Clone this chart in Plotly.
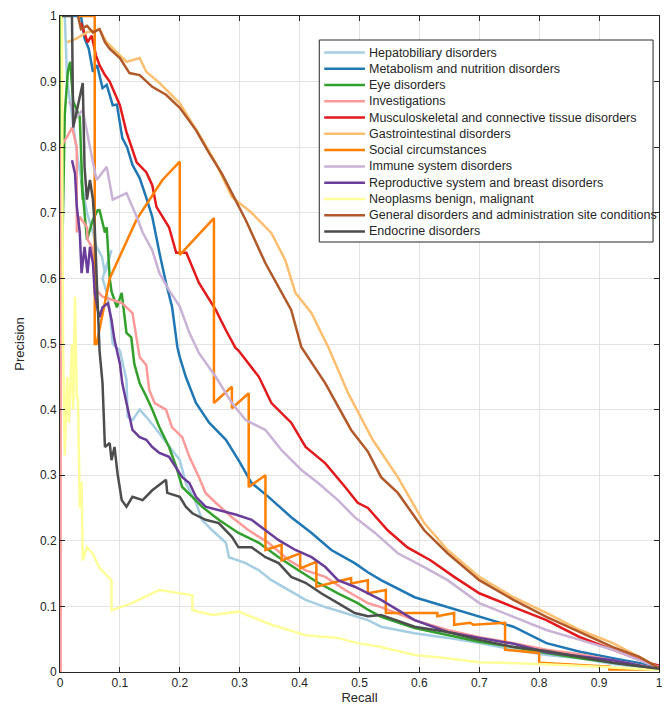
import plotly.graph_objects as go

names = [
    "Hepatobiliary disorders",
    "Metabolism and nutrition disorders",
    "Eye disorders",
    "Investigations",
    "Musculoskeletal and connective tissue disorders",
    "Gastrointestinal disorders",
    "Social circumstances",
    "Immune system disorders",
    "Reproductive system and breast disorders",
    "Neoplasms benign, malignant",
    "General disorders and administration site conditions",
    "Endocrine disorders",
]
colors = ["#A6CEE3", "#1F78B4", "#33A02C", "#FB9A99", "#E31A1C", "#FDBF6F",
          "#FF7F00", "#CAB2D6", "#6A3D9A", "#FFFF99", "#B15928", "#4D4D4D"]

tick_vals = [0, 0.1, 0.2, 0.3, 0.4, 0.5, 0.6, 0.7, 0.8, 0.9, 1.0]
tick_text = ["0", "0.1", "0.2", "0.3", "0.4", "0.5", "0.6", "0.7", "0.8", "0.9", "1"]

hep_r = [0.008, 0.012, 0.02, 0.03, 0.045, 0.055, 0.061, 0.07, 0.075, 0.08, 0.086, 0.071, 0.078, 0.083, 0.088, 0.1,
         0.111, 0.113, 0.121, 0.133, 0.144, 0.158, 0.171, 0.187, 0.2, 0.21, 0.227, 0.237, 0.254, 0.277, 0.282,
         0.31, 0.332, 0.353, 0.381, 0.41, 0.443, 0.476, 0.514, 0.536, 0.592, 0.647, 0.70, 0.757, 0.812, 0.868,
         0.923, 1.0]
hep_p = [1.0, 0.9, 0.85, 0.78, 0.70, 0.67, 0.648, 0.633, 0.608, 0.623, 0.643, 0.60, 0.578, 0.552, 0.50, 0.49,
         0.445, 0.389, 0.384, 0.40, 0.389, 0.373, 0.358, 0.338, 0.323, 0.288, 0.258, 0.232, 0.216, 0.197, 0.175,
         0.166, 0.155, 0.14, 0.125, 0.11, 0.099, 0.09, 0.079, 0.069, 0.059, 0.052, 0.044, 0.034, 0.026, 0.021,
         0.012, 0.004]

met_r = [0.02, 0.035, 0.041, 0.048, 0.055, 0.062, 0.071, 0.078, 0.088, 0.095, 0.104, 0.112, 0.121, 0.133, 0.144,
         0.154, 0.166, 0.177, 0.187, 0.196, 0.2, 0.21, 0.227, 0.249, 0.277, 0.298, 0.32, 0.348, 0.386, 0.42,
         0.453, 0.492, 0.514, 0.536, 0.592, 0.647, 0.70, 0.757, 0.812, 0.868, 0.923, 0.978, 1.0]
met_p = [1.0, 1.0, 0.966, 0.95, 0.915, 0.925, 0.89, 0.895, 0.864, 0.865, 0.814, 0.80, 0.773, 0.753, 0.723,
         0.694, 0.639, 0.593, 0.557, 0.495, 0.48, 0.45, 0.41, 0.38, 0.354, 0.323, 0.288, 0.267, 0.236, 0.212,
         0.186, 0.166, 0.152, 0.14, 0.114, 0.099, 0.084, 0.069, 0.044, 0.031, 0.021, 0.012, 0.008]

eye_r = [0.002, 0.003, 0.008, 0.013, 0.017, 0.022, 0.033, 0.038, 0.036, 0.045, 0.055, 0.063, 0.066, 0.075, 0.078,
         0.083, 0.086, 0.095, 0.103, 0.111, 0.119, 0.124, 0.133, 0.144, 0.154, 0.166, 0.182, 0.194, 0.204, 0.221,
         0.237, 0.265, 0.298, 0.332, 0.365, 0.398, 0.431, 0.464, 0.497, 0.514, 0.536, 0.592, 0.647, 0.70, 0.757,
         0.812, 0.868, 0.923, 1.0]
eye_p = [1.0, 0.6, 0.85, 0.915, 0.93, 0.87, 0.846, 0.72, 0.75, 0.659, 0.69, 0.704, 0.704, 0.67, 0.678,
         0.60, 0.58, 0.556, 0.578, 0.517, 0.51, 0.47, 0.44, 0.42, 0.40, 0.373, 0.343, 0.313, 0.282, 0.267,
         0.252, 0.232, 0.212, 0.197, 0.175, 0.155, 0.136, 0.12, 0.105, 0.095, 0.084, 0.067, 0.056, 0.046, 0.038,
         0.029, 0.021, 0.014, 0.005]

inv_r = [0.001, 0.001, 0.012, 0.02, 0.028, 0.028, 0.033, 0.036, 0.045, 0.046, 0.053, 0.061, 0.071, 0.088, 0.104,
         0.121, 0.133, 0.144, 0.149, 0.158, 0.177, 0.187, 0.204, 0.216, 0.232, 0.243, 0.26, 0.287, 0.315,
         0.348, 0.381, 0.41, 0.443, 0.476, 0.514, 0.536, 0.592, 0.647, 0.70, 0.757, 0.812, 0.868, 0.923, 1.0]
inv_p = [0.0, 0.8, 0.816, 0.83, 0.80, 0.67, 0.694, 0.69, 0.678, 0.659, 0.648, 0.582, 0.572, 0.567, 0.562,
         0.547, 0.48, 0.468, 0.43, 0.41, 0.40, 0.373, 0.358, 0.328, 0.297, 0.273, 0.258, 0.236, 0.216,
         0.197, 0.171, 0.155, 0.145, 0.125, 0.105, 0.099, 0.079, 0.064, 0.053, 0.044, 0.034, 0.027, 0.018, 0.005]

mus_r = [0.035, 0.046, 0.053, 0.06, 0.066, 0.075, 0.083, 0.09, 0.1, 0.111, 0.128, 0.144, 0.154, 0.161, 0.182,
         0.194, 0.211, 0.232, 0.26, 0.277, 0.293, 0.298, 0.332, 0.353, 0.386, 0.41, 0.443, 0.476, 0.497, 0.514,
         0.547, 0.58, 0.619, 0.658, 0.70, 0.757, 0.812, 0.868, 0.923, 0.978, 1.0]
mus_p = [0.99, 0.96, 0.97, 0.94, 0.925, 0.91, 0.90, 0.885, 0.864, 0.823, 0.777, 0.762, 0.742, 0.709, 0.678,
         0.639, 0.639, 0.593, 0.552, 0.521, 0.494, 0.49, 0.45, 0.41, 0.38, 0.343, 0.318, 0.282, 0.258, 0.25,
         0.216, 0.19, 0.17, 0.145, 0.12, 0.099, 0.079, 0.053, 0.034, 0.015, 0.01]

gas_r = [0.012, 0.028, 0.045, 0.066, 0.078, 0.095, 0.111, 0.133, 0.144, 0.166, 0.2, 0.232, 0.26, 0.287, 0.32,
         0.353, 0.376, 0.393, 0.42, 0.436, 0.448, 0.481, 0.522, 0.564, 0.608, 0.647, 0.70, 0.757, 0.812, 0.868,
         0.923, 0.967, 1.0]
gas_p = [0.96, 0.966, 0.975, 0.98, 0.96, 0.945, 0.93, 0.936, 0.915, 0.898, 0.867, 0.82, 0.776, 0.724, 0.70,
         0.669, 0.628, 0.578, 0.547, 0.517, 0.495, 0.425, 0.354, 0.297, 0.227, 0.186, 0.145, 0.114, 0.09, 0.064,
         0.044, 0.023, 0.006]

soc_r = [0.03, 0.058, 0.058, 0.061, 0.083, 0.128, 0.171, 0.2, 0.2, 0.257, 0.257, 0.287, 0.287, 0.315, 0.315,
         0.343, 0.343, 0.37, 0.37, 0.401, 0.401, 0.428, 0.428, 0.486, 0.486, 0.514, 0.514, 0.544, 0.544, 0.63,
         0.63, 0.658, 0.658, 0.685, 0.69, 0.743, 0.743, 0.80, 0.80, 0.917, 0.917, 1.0]
soc_p = [1.0, 1.0, 0.50, 0.50, 0.60, 0.69, 0.75, 0.778, 0.636, 0.692, 0.41, 0.435, 0.402, 0.425, 0.282,
         0.30, 0.186, 0.194, 0.17, 0.181, 0.158, 0.168, 0.13, 0.143, 0.135, 0.14, 0.12, 0.125, 0.09, 0.09,
         0.085, 0.09, 0.072, 0.075, 0.072, 0.075, 0.034, 0.029, 0.014, 0.008, 0.004, 0.004]

imm_r = [0.015, 0.028, 0.038, 0.045, 0.05, 0.061, 0.078, 0.088, 0.111, 0.128, 0.138, 0.154, 0.166, 0.182, 0.2,
         0.216, 0.232, 0.26, 0.287, 0.31, 0.343, 0.37, 0.403, 0.431, 0.464, 0.492, 0.526, 0.564, 0.608, 0.647,
         0.70, 0.757, 0.812, 0.868, 0.923, 0.978, 1.0]
imm_p = [0.87, 0.846, 0.857, 0.82, 0.80, 0.75, 0.77, 0.72, 0.73, 0.694, 0.67, 0.643, 0.608, 0.582, 0.557,
         0.517, 0.486, 0.45, 0.41, 0.384, 0.369, 0.338, 0.308, 0.288, 0.262, 0.236, 0.212, 0.181, 0.16, 0.14,
         0.105, 0.084, 0.064, 0.049, 0.034, 0.014, 0.008]

rep_r = [0.02, 0.025, 0.028, 0.033, 0.036, 0.041, 0.046, 0.05, 0.055, 0.058, 0.063, 0.066, 0.071, 0.08, 0.086,
         0.091, 0.1, 0.104, 0.111, 0.116, 0.121, 0.133, 0.144, 0.154, 0.166, 0.182, 0.204, 0.216, 0.227, 0.243,
         0.265, 0.293, 0.32, 0.343, 0.365, 0.393, 0.42, 0.443, 0.464, 0.492, 0.514, 0.536, 0.592, 0.647, 0.70,
         0.757, 0.812, 0.868, 0.923, 1.0]
rep_p = [0.78, 0.76, 0.71, 0.67, 0.608, 0.648, 0.608, 0.648, 0.623, 0.578, 0.552, 0.541, 0.556, 0.562, 0.537,
         0.506, 0.47, 0.44, 0.41, 0.389, 0.369, 0.358, 0.354, 0.343, 0.334, 0.328, 0.297, 0.288, 0.267, 0.252,
         0.247, 0.24, 0.232, 0.216, 0.201, 0.186, 0.175, 0.16, 0.14, 0.13, 0.12, 0.11, 0.079, 0.061, 0.052,
         0.043, 0.03, 0.024, 0.018, 0.004]

neo_r = [0.003, 0.005, 0.008, 0.012, 0.015, 0.02, 0.022, 0.025, 0.028, 0.03, 0.033, 0.036, 0.038, 0.045, 0.055,
         0.065, 0.075, 0.086, 0.086, 0.12, 0.166, 0.221, 0.221, 0.254, 0.298, 0.353, 0.41, 0.464, 0.497, 0.536,
         0.592, 0.647, 0.70, 0.757, 0.81, 0.9, 1.0]
neo_p = [1.0, 0.5, 0.33, 0.45, 0.38, 0.5, 0.40, 0.572, 0.42, 0.415, 0.25, 0.29, 0.17, 0.19, 0.18,
         0.16, 0.15, 0.14, 0.094, 0.105, 0.125, 0.117, 0.094, 0.087, 0.092, 0.072, 0.056, 0.052, 0.044, 0.038,
         0.026, 0.021, 0.015, 0.014, 0.012, 0.008, 0.003]

gen_r = [0.03, 0.035, 0.045, 0.055, 0.066, 0.075, 0.083, 0.1, 0.116, 0.133, 0.154, 0.177, 0.2, 0.227, 0.249,
         0.27, 0.287, 0.31, 0.343, 0.365, 0.386, 0.403, 0.443, 0.486, 0.514, 0.536, 0.564, 0.608, 0.647, 0.70,
         0.757, 0.812, 0.868, 0.923, 0.967, 1.0]
gen_p = [1.0, 0.98, 0.985, 0.975, 0.98, 0.96, 0.95, 0.936, 0.913, 0.91, 0.892, 0.88, 0.86, 0.826, 0.791,
         0.76, 0.73, 0.689, 0.623, 0.587, 0.552, 0.495, 0.44, 0.369, 0.336, 0.297, 0.273, 0.216, 0.181, 0.14,
         0.11, 0.084, 0.061, 0.038, 0.023, 0.006]

end_r = [0.003, 0.02, 0.022, 0.038, 0.041, 0.045, 0.05, 0.055, 0.058, 0.063, 0.066, 0.071, 0.075, 0.083, 0.086,
         0.091, 0.096, 0.103, 0.111, 0.121, 0.138, 0.154, 0.171, 0.177, 0.179, 0.2, 0.21, 0.221, 0.243, 0.265,
         0.287, 0.298, 0.32, 0.343, 0.365, 0.386, 0.41, 0.436, 0.464, 0.492, 0.514, 0.536, 0.592, 0.647, 0.70,
         0.757, 0.812, 0.868, 0.923, 1.0]
end_p = [1.0, 1.0, 0.83, 0.898, 0.77, 0.72, 0.75, 0.72, 0.678, 0.567, 0.49, 0.44, 0.343, 0.349, 0.323,
         0.343, 0.303, 0.262, 0.252, 0.267, 0.262, 0.277, 0.288, 0.293, 0.273, 0.267, 0.252, 0.242, 0.232, 0.227,
         0.206, 0.19, 0.19, 0.175, 0.166, 0.145, 0.136, 0.12, 0.105, 0.09, 0.085, 0.087, 0.069, 0.061, 0.049,
         0.038, 0.032, 0.023, 0.014, 0.005]

series = [(hep_r, hep_p), (met_r, met_p), (eye_r, eye_p), (inv_r, inv_p), (mus_r, mus_p), (gas_r, gas_p),
          (soc_r, soc_p), (imm_r, imm_p), (rep_r, rep_p), (neo_r, neo_p), (gen_r, gen_p), (end_r, end_p)]

W, H = 665, 711
ML, MR, MT, MB = 60, 2, 16, 39
PW, PH = W - ML - MR, H - MT - MB


def px_x(px):
    return (px - ML) / PW


def px_y(py):
    return (H - MB - py) / PH


fig = go.Figure()
for name, color, (r, p) in zip(names, colors, series):
    fig.add_trace(go.Scatter(x=r, y=p, mode="lines", name=name, showlegend=False,
                             line=dict(color=color, width=2.5)))

axis_common = dict(range=[0, 1], tickvals=tick_vals, ticktext=tick_text,
                   showgrid=True, gridcolor="#e3e3e3", gridwidth=1,
                   showline=True, linecolor="#262626", linewidth=1, mirror="ticks",
                   ticks="inside", ticklen=5, tickcolor="#262626", zeroline=False,
                   ticklabeloverflow="allow",
                   tickfont=dict(family="Liberation Sans, Arial", size=12, color="#262626"))

# legend box drawn by hand (matches the compact MATLAB legend spacing)
shapes = [dict(type="rect", xref="paper", yref="paper",
               x0=px_x(321), x1=px_x(657), y0=px_y(242), y1=px_y(40),
               line=dict(color="#262626", width=1), fillcolor="white", layer="above")]
annotations = []
row0, rowstep = 52.5, 16.27
for i, (name, color) in enumerate(zip(names, colors)):
    yy = px_y(row0 + rowstep * i)
    shapes.append(dict(type="line", xref="paper", yref="paper",
                       x0=px_x(326), x1=px_x(367), y0=yy, y1=yy,
                       line=dict(color=color, width=2.5), layer="above"))
    annotations.append(dict(xref="paper", yref="paper", x=px_x(369), y=yy,
                            text=name, showarrow=False, xanchor="left", yanchor="middle",
                            font=dict(family="Liberation Sans, Arial", size=12.5, color="#262626")))

fig.update_layout(
    width=W, height=H,
    margin=dict(l=ML, r=MR, t=MT, b=MB),
    paper_bgcolor="white", plot_bgcolor="white",
    font=dict(family="Liberation Sans, Arial", size=12, color="#262626"),
    xaxis=dict(axis_common, title=dict(text="Recall", standoff=3,
                                       font=dict(size=13, color="#262626"))),
    yaxis=dict(axis_common, title=dict(text="Precision", standoff=12,
                                       font=dict(size=13, color="#262626"))),
    shapes=shapes,
    annotations=annotations,
)

fig.write_html("out.html")
